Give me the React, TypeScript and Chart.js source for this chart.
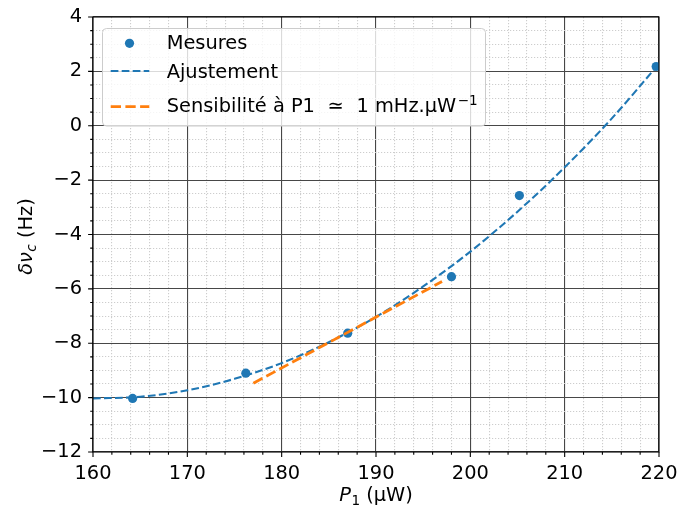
import React, { useEffect, useRef } from 'react';
import { Chart, registerables } from 'chart.js';

Chart.register(...registerables);

// ---- data ----
const measuresX = [164.2, 176.2, 187.0, 198.0, 205.2, 219.7];
const measuresY = [-10.03, -9.1, -7.63, -5.55, -2.57, 2.18];

const fitX = [160, 165, 170, 175, 180, 185, 190, 195, 200, 205, 210, 215, 220];
const fitY = [-10.03, -9.97, -9.73, -9.31, -8.73, -7.96, -7.03, -5.91, -4.63, -3.16, -1.53, 0.27, 2.28];

const slopeX = [177.0, 197.0];
const slopeY = [-9.47, -5.73];

const xMajorTicks = [160, 170, 180, 190, 200, 210, 220];
const yMajorTicks = [-12, -10, -8, -6, -4, -2, 0, 2, 4];
const xMinorStep = 2;
const yMinorStep = 0.5;

const seriesLabels = ['Mesures', 'Ajustement', 'Sensibilité à P1'];

// ---- styles ----
const BLUE = '#1f77b4';
const ORANGE = '#ff7f0e';
const FONT = '"DejaVu Sans", sans-serif';
const FS = 19.4;
const MAJOR_GRID = '#474747';
const MINOR_GRID = '#cdcdcd';

const near = (a: number, b: number) => Math.abs(a - b) < 1e-6;
const isMajorX = (v: any) => typeof v === 'number' && xMajorTicks.some((t) => near(t, v));
const isMajorY = (v: any) => typeof v === 'number' && yMajorTicks.some((t) => near(t, v));

const fmt = (v: number) => (v < 0 ? '\u2212' + String(-v) : String(v));

function buildTicks(min: number, max: number, step: number) {
  const out: { value: number }[] = [];
  const n = Math.round((max - min) / step);
  for (let i = 0; i <= n; i++) out.push({ value: +(min + i * step).toFixed(6) });
  return out;
}

type Part = { t: string; italic?: boolean; scale?: number; dy?: number; gap?: number };

function partFont(p: Part) {
  return `${p.italic ? 'italic ' : ''}${(FS * (p.scale || 1)).toFixed(2)}px ${FONT}`;
}

function partsWidth(ctx: CanvasRenderingContext2D, parts: Part[]) {
  let w = 0;
  for (const p of parts) {
    ctx.font = partFont(p);
    w += (p.gap || 0) + ctx.measureText(p.t).width;
  }
  return w;
}

function drawParts(ctx: CanvasRenderingContext2D, parts: Part[], x: number, y: number) {
  let cx = x;
  ctx.textBaseline = 'alphabetic';
  ctx.textAlign = 'left';
  for (const p of parts) {
    cx += p.gap || 0;
    ctx.font = partFont(p);
    ctx.fillText(p.t, cx, y + (p.dy || 0));
    cx += ctx.measureText(p.t).width;
  }
}

function roundRect(ctx: CanvasRenderingContext2D, x: number, y: number, w: number, h: number, r: number) {
  ctx.beginPath();
  ctx.moveTo(x + r, y);
  ctx.lineTo(x + w - r, y);
  ctx.arcTo(x + w, y, x + w, y + r, r);
  ctx.lineTo(x + w, y + h - r);
  ctx.arcTo(x + w, y + h, x + w - r, y + h, r);
  ctx.lineTo(x + r, y + h);
  ctx.arcTo(x, y + h, x, y + h - r, r);
  ctx.lineTo(x, y + r);
  ctx.arcTo(x, y, x + r, y, r);
  ctx.closePath();
}

const decorPlugin = {
  id: 'decor',
  afterDatasetsDraw(chart: any) {
    const { ctx, chartArea: a, scales } = chart;
    const xs = scales.x;
    const ys = scales.y;
    ctx.save();

    // spines
    ctx.strokeStyle = '#000';
    ctx.lineWidth = 1.1;
    ctx.setLineDash([]);
    ctx.strokeRect(a.left, a.top, a.right - a.left, a.bottom - a.top);

    // tick marks (outside)
    ctx.beginPath();
    for (const t of xs.ticks) {
      const px = xs.getPixelForValue(t.value);
      const len = isMajorX(t.value) ? 4.9 : 2.8;
      ctx.moveTo(px, a.bottom);
      ctx.lineTo(px, a.bottom + len);
    }
    for (const t of ys.ticks) {
      const py = ys.getPixelForValue(t.value);
      const len = isMajorY(t.value) ? 4.9 : 2.8;
      ctx.moveTo(a.left - len, py);
      ctx.lineTo(a.left, py);
    }
    ctx.stroke();

    // legend
    const lx = 102.5, ly = 28.5, lw = 383, lh = 97.5;
    roundRect(ctx, lx, ly, lw, lh, 4);
    ctx.fillStyle = 'rgba(255,255,255,0.8)';
    ctx.fill();
    ctx.strokeStyle = '#cccccc';
    ctx.lineWidth = 1;
    ctx.stroke();

    const handleL = 110.7, handleR = 149.3, textX = 166.7;
    // Mesures marker
    ctx.fillStyle = BLUE;
    ctx.beginPath();
    ctx.arc((handleL + handleR) / 2 - 0.5, 43.3, 4.6, 0, Math.PI * 2);
    ctx.fill();
    // Ajustement line
    ctx.strokeStyle = BLUE;
    ctx.lineWidth = 2.08;
    ctx.setLineDash([7.7, 3.3]);
    ctx.beginPath();
    ctx.moveTo(handleL, 71);
    ctx.lineTo(handleR, 71);
    ctx.stroke();
    // Sensibilite line
    ctx.strokeStyle = ORANGE;
    ctx.lineWidth = 2.78;
    ctx.setLineDash([10.3, 4.4]);
    ctx.beginPath();
    ctx.moveTo(handleL, 106.7);
    ctx.lineTo(handleR, 106.7);
    ctx.stroke();
    ctx.setLineDash([]);

    ctx.fillStyle = '#000';
    drawParts(ctx, [{ t: seriesLabels[0] }], textX, 49.3);
    drawParts(ctx, [{ t: seriesLabels[1] }], textX, 78.3);
    drawParts(
      ctx,
      [
        { t: seriesLabels[2] },
        { t: '\u2243', gap: 12.6 },
        { t: '1 mHz.\u00b5W', gap: 12.6 },
        { t: '\u22121', scale: 0.7, dy: -7.5, gap: 1.4 },
      ],
      textX,
      112.3
    );

    // x axis title
    const xParts: Part[] = [
      { t: 'P', italic: true },
      { t: '1', scale: 0.7, dy: 3.5, gap: 0.5 },
      { t: ' (\u00b5W)' },
    ];
    const xw = partsWidth(ctx, xParts);
    drawParts(ctx, xParts, (a.left + a.right) / 2 - xw / 2, 501);

    // y axis title
    const yParts: Part[] = [
      { t: '\u03b4\u03bd', italic: true },
      { t: 'c', italic: true, scale: 0.7, dy: 3.5, gap: 0.5 },
      { t: ' (Hz)' },
    ];
    const yw = partsWidth(ctx, yParts);
    ctx.translate(32, (a.top + a.bottom) / 2 + 2);
    ctx.rotate(-Math.PI / 2);
    drawParts(ctx, yParts, -yw / 2, 0);

    ctx.restore();
  },
};

export default function App() {
  const canvasRef = useRef<HTMLCanvasElement | null>(null);

  useEffect(() => {
    const canvas = canvasRef.current;
    if (!canvas) return;

    const chart = new Chart(canvas, {
      type: 'scatter',
      data: {
        datasets: [
          {
            label: 'Sensibilité',
            data: slopeX.map((x, i) => ({ x, y: slopeY[i] })),
            showLine: true,
            borderColor: ORANGE,
            borderWidth: 2.78,
            borderDash: [10.3, 4.4],
            pointRadius: 0,
            order: 1,
          } as any,
          {
            label: seriesLabels[1],
            data: fitX.map((x, i) => ({ x, y: fitY[i] })),
            showLine: true,
            borderColor: BLUE,
            borderWidth: 2.08,
            borderDash: [7.7, 3.3],
            pointRadius: 0,
            cubicInterpolationMode: 'monotone',
            order: 2,
          } as any,
          {
            label: seriesLabels[0],
            data: measuresX.map((x, i) => ({ x, y: measuresY[i] })),
            showLine: false,
            pointRadius: 4.6,
            pointBackgroundColor: BLUE,
            pointBorderColor: BLUE,
            pointBorderWidth: 0,
            order: 3,
          } as any,
        ],
      },
      options: {
        animation: false,
        responsive: true,
        maintainAspectRatio: false,
        events: [],
        layout: { padding: { top: 17, right: 20, left: 0, bottom: 0 } },
        plugins: {
          legend: { display: false },
          tooltip: { enabled: false },
          title: { display: false },
        },
        scales: {
          x: {
            type: 'linear',
            min: xMajorTicks[0],
            max: xMajorTicks[xMajorTicks.length - 1],
            afterBuildTicks: (s: any) => {
              s.ticks = buildTicks(xMajorTicks[0], xMajorTicks[xMajorTicks.length - 1], xMinorStep);
            },
            afterFit: (s: any) => {
              s.height = 59;
              s.paddingLeft = 0;
              s.paddingRight = 0;
            },
            grid: {
              color: (c: any) => (isMajorX(c.tick?.value) ? MAJOR_GRID : MINOR_GRID),
              lineWidth: 1.1,
              drawTicks: true,
              tickLength: 5,
              tickColor: 'rgba(0,0,0,0)',
            },
            border: {
              display: false,
              dash: (c: any) => (c.tick && !isMajorX(c.tick.value) ? [1.2, 1.8] : []),
            },
            ticks: {
              autoSkip: false,
              maxRotation: 0,
              padding: 5,
              color: '#000',
              font: { family: FONT, size: FS },
              callback: (v: any) => (isMajorX(v) ? String(v) : ''),
            },
          },
          y: {
            type: 'linear',
            min: yMajorTicks[0],
            max: yMajorTicks[yMajorTicks.length - 1],
            afterBuildTicks: (s: any) => {
              s.ticks = buildTicks(yMajorTicks[0], yMajorTicks[yMajorTicks.length - 1], yMinorStep);
            },
            afterFit: (s: any) => {
              s.width = 93;
              s.paddingTop = 0;
              s.paddingBottom = 0;
            },
            grid: {
              color: (c: any) => (isMajorY(c.tick?.value) ? MAJOR_GRID : MINOR_GRID),
              lineWidth: 1.1,
              drawTicks: true,
              tickLength: 5,
              tickColor: 'rgba(0,0,0,0)',
            },
            border: {
              display: false,
              dash: (c: any) => (c.tick && !isMajorY(c.tick.value) ? [1.2, 1.8] : []),
            },
            ticks: {
              autoSkip: false,
              padding: 6,
              color: '#000',
              font: { family: FONT, size: FS },
              callback: (v: any) => (isMajorY(v) ? fmt(v) : ''),
            },
          },
        },
      } as any,
      plugins: [decorPlugin],
    });

    return () => chart.destroy();
  }, []);

  return (
    <div style={{ position: 'fixed', left: 0, top: 0, width: 679, height: 511, background: '#fff' }}>
      <canvas ref={canvasRef} />
    </div>
  );
}
